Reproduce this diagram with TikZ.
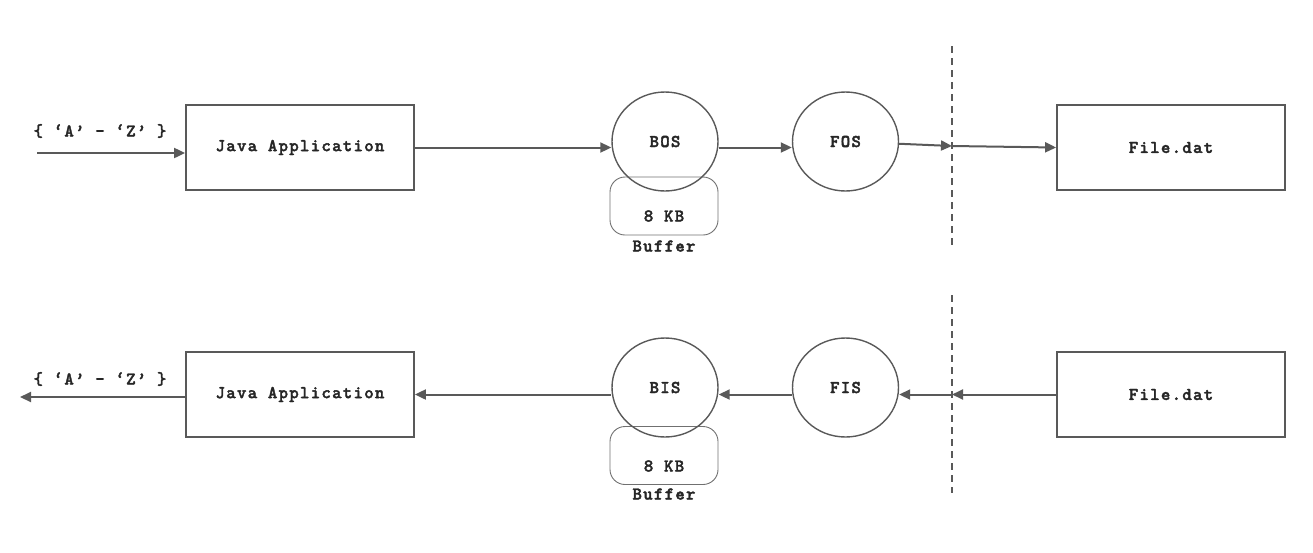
\documentclass[tikz,border=0pt]{standalone}
\usepackage{fontspec}
\newfontfamily\labelfont{lmmonolt10-bold.otf}[LetterSpace=7, FakeBold=2]
\usetikzlibrary{arrows.meta,shapes.geometric}
\definecolor{ink}{HTML}{595959}
\definecolor{txt}{HTML}{262626}
\definecolor{soft}{HTML}{707070}
\begin{document}
\begin{tikzpicture}[x=1pt,y=-1pt,
  lbl/.style={font=\labelfont\fontsize{18}{20}\selectfont, text=txt},
  appbox/.style={draw=ink, line width=1.8pt, minimum width=228pt, minimum height=85pt, lbl},
  stream/.style={ellipse, draw=ink, line width=1.4pt, minimum width=106pt, minimum height=99pt, inner sep=0pt, lbl},
  buf/.style={draw=soft, line width=0.9pt, rounded corners=15pt, minimum width=108pt, minimum height=58pt, inner sep=0pt},
  flow/.style={draw=ink, line width=2pt, -{Triangle[length=11pt,width=10pt]}},
  border/.style={draw=ink, line width=1.6pt, dash pattern=on 7pt off 5pt}]
\useasboundingbox (0,0) rectangle (1313,552);

% ---- writing side ----
\node[appbox] (appW) at (300,147.5) {Java Application};
\node[buf] (bufW) at (664,206) {};
\node[stream] (bos) at (665,141.5) {BOS};
\node[lbl] (kbW) at (664,216) {8 KB};
\node[lbl] (bnW) at (664,246) {Buffer};
\node[stream] (fos) at (845.5,141.5) {FOS};
\node[appbox] (fileW) at (1171,147.5) {File.dat};
\coordinate (srcW) at (37,153);
\coordinate (dTopW) at (952,46);
\coordinate (dBotW) at (952,245);
\coordinate (crossW) at (952,146);
\node[lbl] (rangeW) at (100,131) {\{ ‘A’ - ‘Z’ \}};

\draw[border] (dTopW) -- (dBotW);
\draw[flow] (srcW) -- (srcW -| appW.west);
\draw[flow] (appW.east) -- (appW.east -| bos.west);
\draw[flow] (bos.east |- appW.east) -- (fos.west |- appW.east);
\draw[flow] (fos) -- (crossW);
\draw[flow] (crossW) -- (fileW.west);

% ---- reading side ----
\node[appbox] (appR) at (300,394.5) {Java Application};
\node[buf] (bufR) at (664,455.5) {};
\node[stream] (bis) at (665,387.5) {BIS};
\node[lbl] (kbR) at (664,466) {8 KB};
\node[lbl] (bnR) at (664,494) {Buffer};
\node[stream] (fis) at (845.5,387.5) {FIS};
\node[appbox] (fileR) at (1171,394.5) {File.dat};
\coordinate (dstR) at (20,397);
\coordinate (dTopR) at (952,295);
\coordinate (dBotR) at (952,493);
\coordinate (crossR) at (952,394.5);
\node[lbl] (rangeR) at (100,379) {\{ ‘A’ - ‘Z’ \}};

\draw[border] (dTopR) -- (dBotR);
\draw[flow] (appR.west |- dstR) -- (dstR);
\draw[flow] (bis.west |- appR.east) -- (appR.east);
\draw[flow] (fis.west |- crossR) -- (bis.east |- crossR);
\draw[flow] (crossR) -- (fis.east |- crossR);
\draw[flow] (fileR.west) -- (crossR);
\end{tikzpicture}
\end{document}
